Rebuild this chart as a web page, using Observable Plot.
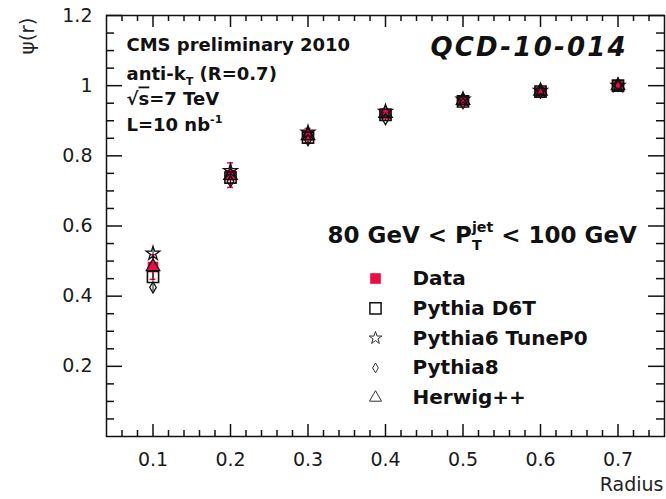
<!DOCTYPE html>
<html>
<head>
<meta charset="utf-8">
<script src="https://cdn.jsdelivr.net/npm/d3@7"></script>
<script src="https://cdn.jsdelivr.net/npm/@observablehq/plot@0.6"></script>
<style>
  html, body { margin: 0; padding: 0; background: #fff; }
</style>
</head>
<body>
<div id="chart"></div>
<script>
// Integrated jet shape psi(r) versus cone radius, 80 GeV < pT(jet) < 100 GeV.
const radius    = [0.1, 0.2, 0.3, 0.4, 0.5, 0.6, 0.7];
const dataPsi   = [0.483, 0.745, 0.858, 0.920, 0.957, 0.983, 1.000];
const dataErr   = [0.035, 0.035, 0.020, 0.012, 0.008, 0.004, 0.000];
const pythiaD6T = [0.455, 0.738, 0.852, 0.917, 0.955, 0.983, 1.000];
const pythiaP0  = [0.522, 0.757, 0.867, 0.926, 0.961, 0.986, 1.000];
const pythia8   = [0.425, 0.727, 0.845, 0.905, 0.950, 0.980, 1.000];
const herwig    = [0.484, 0.744, 0.857, 0.921, 0.958, 0.984, 1.000];
const mcErr     = [0.012, 0.010, 0.008, 0.006, 0.004, 0.002, 0.000];

const xTicks      = [0.1, 0.2, 0.3, 0.4, 0.5, 0.6, 0.7];
const xTickLabels = ["0.1", "0.2", "0.3", "0.4", "0.5", "0.6", "0.7"];
const yTicks      = [0.2, 0.4, 0.6, 0.8, 1.0, 1.2];
const yTickLabels = ["0.2", "0.4", "0.6", "0.8", "1", "1.2"];

const seriesNames = ["Data", "Pythia D6T", "Pythia6 TuneP0", "Pythia8", "Herwig++"];
const infoLines   = ["CMS preliminary 2010", "anti-k_{T} (R=0.7)", "#sqrt{s}=7 TeV", "L=10 nb^{-1}"];
const analysisTag = "QCD-10-014";
const ptBin       = "80 GeV < P_{T}^{jet} < 100 GeV";
const xTitle      = "Radius";
const yTitle      = "ψ(r)";

const RED = "#ee0a45";
const INK = "#111";

// canvas and frame geometry
const W = 666, H = 499;
const M = {top: 15, right: 2, bottom: 63, left: 106};
const frameW = W - M.left - M.right;
const frameH = H - M.top - M.bottom;

// minor tick positions (x every 0.02, y every 0.05), majors excluded
const xMinor = d3.range(3, 38).map(i => +(i * 0.02).toFixed(2)).filter(v => Math.abs(v * 10 - Math.round(v * 10)) > 1e-6);
const yMinor = d3.range(1, 24).map(i => +(i * 0.05).toFixed(2)).filter(v => Math.abs(v * 5 - Math.round(v * 5)) > 1e-6);

const rowsOf = (values, err) => radius.map((r, i) => ({
  r, v: values[i], lo: values[i] - err[i], hi: values[i] + err[i]
}));

// style of each series marker, plot and legend
const series = [
  {values: dataPsi,   err: dataErr, symbol: "square",   r: 6,   fill: RED,    stroke: "none", sw: 0,   lr: 6,   lstroke: "none", lsw: 0},
  {values: pythiaD6T, err: mcErr,   symbol: "square",   r: 6.3, fill: "none", stroke: INK,    sw: 1.6, lr: 6.3, lstroke: INK,    lsw: 1.5},
  {values: pythiaP0,  err: mcErr,   symbol: "star",     r: 4.3, fill: "none", stroke: INK,    sw: 1.3, lr: 4,   lstroke: "#333", lsw: 1},
  {values: pythia8,   err: mcErr,   symbol: "diamond",  r: 3.4, fill: "none", stroke: INK,    sw: 1.3, lr: 3,   lstroke: "#333", lsw: 1},
  {values: herwig,    err: mcErr,   symbol: "triangle", r: 5,   fill: "none", stroke: INK,    sw: 1.3, lr: 4.5, lstroke: "#333", lsw: 1}
];

const font = "DejaVu Sans";
const fmt = (ticks, labels) => d => labels[ticks.findIndex(t => Math.abs(t - d) < 1e-9)] ?? "";

const annot = (text, dx, dy, o = {}) => Plot.text([text], {
  frameAnchor: "top-left", dx, dy, text: d => d, textAnchor: "start", lineAnchor: "bottom",
  fontFamily: font, fill: INK, ...o
});

// inward ticks: rules spanning the frame, trimmed to the tick length by insets
const tickStyle = {stroke: INK, strokeWidth: 1.5};
const xTickMarks = (ticks, len) => [
  Plot.ruleX(ticks, {x: d => d, insetTop: frameH - len, ...tickStyle}),
  Plot.ruleX(ticks, {x: d => d, insetBottom: frameH - len, ...tickStyle})
];
const yTickMarks = (ticks, len) => [
  Plot.ruleY(ticks, {y: d => d, insetRight: frameW - len, ...tickStyle}),
  Plot.ruleY(ticks, {y: d => d, insetLeft: frameW - len, ...tickStyle})
];

const marks = [];

// error bars: data in red with end caps, simulations in black
const dataRows = rowsOf(dataPsi, dataErr).filter(d => d.hi > d.lo);
marks.push(Plot.ruleX(dataRows, {x: "r", y1: "lo", y2: "hi", stroke: RED, strokeWidth: 1.5}));
marks.push(Plot.ruleY(dataRows.flatMap(d => [{r: d.r, v: d.lo}, {r: d.r, v: d.hi}]),
  {y: "v", x1: "r", x2: "r", insetLeft: -3, insetRight: -3, stroke: RED, strokeWidth: 1.5}));
for (const s of series.slice(1)) {
  marks.push(Plot.ruleX(rowsOf(s.values, s.err).filter(d => d.hi > d.lo),
    {x: "r", y1: "lo", y2: "hi", stroke: INK, strokeWidth: 1}));
}
// markers: data first, simulations over it
for (const s of series) {
  marks.push(Plot.dot(rowsOf(s.values, s.err), {
    x: "r", y: "v", symbol: s.symbol, r: s.r, fill: s.fill, stroke: s.stroke, strokeWidth: s.sw
  }));
}

// frame, ticks and tick labels
marks.push(Plot.frame({stroke: INK, strokeWidth: 1.5}));
marks.push(
  ...xTickMarks(xTicks, 12), ...xTickMarks(xMinor, 6),
  ...yTickMarks(yTicks, 16), ...yTickMarks(yMinor, 8),
  Plot.axisX({anchor: "bottom", ticks: xTicks, tickSize: 0, tickPadding: 16, tickFormat: fmt(xTicks, xTickLabels),
    fontSize: 19, fontFamily: font, fill: "#1a1a1a", label: null}),
  Plot.axisY({anchor: "left", ticks: yTicks, tickSize: 0, tickPadding: 14, tickFormat: fmt(yTicks, yTickLabels),
    fontSize: 19, fontFamily: font, fill: "#1a1a1a", label: null})
);

// axis titles
marks.push(Plot.text([xTitle], {frameAnchor: "bottom-right", dx: -1, dy: 54, text: d => d, textAnchor: "end",
  lineAnchor: "bottom", fontSize: 19, fontFamily: font, fill: "#222"}));
marks.push(Plot.text([yTitle], {frameAnchor: "top-left", dx: -79, dy: 2, text: d => d, rotate: -90,
  textAnchor: "end", lineAnchor: "middle", fontSize: 20, fontFamily: font, fill: "#222"}));

// info block and labels inside the frame
const infoDy = [35, 64, 89, 115];
infoLines.forEach((t, i) => marks.push(annot(t, 20, infoDy[i], {fontSize: 18, fontWeight: "bold"})));
marks.push(annot(analysisTag, 324, 40, {fontSize: 26, fontWeight: "bold", fontStyle: "italic"}));
marks.push(annot(ptBin, 221, 227, {fontSize: 23, fontWeight: "bold"}));

// legend
seriesNames.forEach((name, i) => {
  const s = series[i];
  const dy = 263 + 29.8 * i;
  marks.push(Plot.dot([name], {frameAnchor: "top-left", dx: 269, dy, symbol: s.symbol, r: s.lr,
    fill: s.fill, stroke: s.lstroke, strokeWidth: s.lsw}));
  marks.push(annot(name, 306, dy, {fontSize: 20, fontWeight: "bold", lineAnchor: "middle"}));
});

const chart = Plot.plot({
  width: W,
  height: H,
  marginLeft: M.left,
  marginRight: M.right,
  marginTop: M.top,
  marginBottom: M.bottom,
  x: {domain: [0.04, 0.76], label: null},
  y: {domain: [0, 1.2], label: null},
  style: {fontFamily: font, background: "#fff", color: INK},
  marks
});
document.getElementById("chart").appendChild(chart);

// turn _{..}, ^{..} and #sqrt{..} markup into sub/superscript tspans
function richify(svg) {
  d3.select(svg).selectAll("text").each(function() {
    const el = this;
    const s = el.textContent;
    if (s === analysisTag) el.setAttribute("letter-spacing", "2.2");
    if (!/[_^#]\{|#sqrt/.test(s)) return;
    const fs = parseFloat(getComputedStyle(el).fontSize);
    const tokens = s.match(/_\{[^}]*\}\^\{[^}]*\}|_\{[^}]*\}|\^\{[^}]*\}|#sqrt\{[^}]*\}|[^_^#]+/g);
    el.textContent = "";
    let shift = 0;
    const add = (txt, {dy = 0, size = fs, dx = 0, deco} = {}) => {
      const t = d3.select(el).append("tspan").text(txt).attr("font-size", size);
      if (dy - shift) t.attr("dy", dy - shift);
      if (dx) t.attr("dx", dx);
      if (deco) t.attr("text-decoration", deco);
      shift = dy;
      return t;
    };
    for (const tok of tokens) {
      let m;
      if ((m = tok.match(/^_\{([^}]*)\}\^\{([^}]*)\}$/))) {
        const sub = add(m[1], {dy: 0.32 * fs, size: 0.62 * fs});
        const w = sub.node().getComputedTextLength();
        add(m[2], {dy: -0.45 * fs, size: 0.62 * fs, dx: -w});
      } else if ((m = tok.match(/^_\{([^}]*)\}$/))) {
        add(m[1], {dy: 0.3 * fs, size: 0.62 * fs});
      } else if ((m = tok.match(/^\^\{([^}]*)\}$/))) {
        add(m[1], {dy: -0.42 * fs, size: 0.62 * fs});
      } else if ((m = tok.match(/^#sqrt\{([^}]*)\}$/))) {
        add("√");
        add(m[1], {deco: "overline"});
      } else {
        add(tok);
      }
    }
  });
}
richify(chart);
</script>
</body>
</html>
